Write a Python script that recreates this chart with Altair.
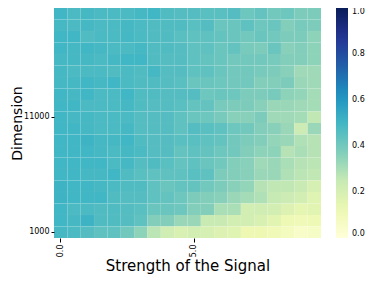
import altair as alt
import pandas as pd

strengths = [0.0, 0.5, 1.0, 1.5, 2.0, 2.5, 3.0, 3.5, 4.0, 4.5,
             5.0, 5.5, 6.0, 6.5, 7.0, 7.5, 8.0, 8.5, 9.0, 9.5]
dims_top_to_bottom = [20000, 19000, 18000, 17000, 16000, 15000, 14000, 13000, 12000, 11000,
                      10000, 9000, 8000, 7000, 6000, 5000, 4000, 3000, 2000, 1000]

# left half (strength 0.0 - 4.5), rows from dimension 20000 down to 1000
values_left = [
    [0.50,0.48,0.49,0.48,0.48,0.48,0.49,0.50,0.47,0.46],
    [0.49,0.48,0.49,0.48,0.48,0.49,0.48,0.47,0.47,0.47],
    [0.50,0.50,0.47,0.48,0.48,0.49,0.48,0.47,0.47,0.45],
    [0.50,0.49,0.50,0.49,0.48,0.48,0.49,0.47,0.47,0.46],
    [0.49,0.49,0.49,0.48,0.49,0.50,0.50,0.47,0.46,0.46],
    [0.49,0.48,0.48,0.48,0.47,0.48,0.47,0.49,0.46,0.46],
    [0.49,0.49,0.50,0.49,0.50,0.48,0.47,0.47,0.46,0.45],
    [0.50,0.49,0.50,0.48,0.48,0.50,0.47,0.47,0.46,0.46],
    [0.50,0.50,0.48,0.48,0.48,0.49,0.47,0.46,0.46,0.45],
    [0.50,0.49,0.49,0.48,0.48,0.48,0.46,0.46,0.46,0.44],
    [0.50,0.50,0.49,0.48,0.48,0.49,0.46,0.46,0.46,0.44],
    [0.50,0.50,0.51,0.49,0.49,0.50,0.47,0.46,0.46,0.45],
    [0.50,0.50,0.50,0.49,0.48,0.49,0.48,0.46,0.46,0.43],
    [0.50,0.50,0.50,0.50,0.48,0.49,0.46,0.47,0.45,0.43],
    [0.50,0.50,0.49,0.49,0.50,0.47,0.45,0.44,0.44,0.44],
    [0.51,0.50,0.50,0.49,0.48,0.47,0.47,0.44,0.42,0.43],
    [0.51,0.50,0.50,0.50,0.47,0.46,0.46,0.44,0.43,0.41],
    [0.50,0.48,0.48,0.47,0.47,0.46,0.45,0.42,0.42,0.41],
    [0.50,0.49,0.51,0.47,0.47,0.46,0.44,0.37,0.37,0.33],
    [0.49,0.48,0.46,0.44,0.44,0.40,0.35,0.27,0.22,0.19],
]

# right half (strength 5.0 - 9.5), rows from dimension 20000 down to 1000
values_right = [
    [0.46,0.45,0.45,0.46,0.41,0.43,0.40,0.41,0.38,0.38],
    [0.45,0.46,0.42,0.42,0.44,0.41,0.42,0.37,0.39,0.38],
    [0.44,0.44,0.43,0.42,0.40,0.42,0.40,0.38,0.38,0.35],
    [0.44,0.44,0.42,0.43,0.39,0.38,0.42,0.36,0.37,0.35],
    [0.44,0.43,0.42,0.40,0.40,0.40,0.39,0.37,0.37,0.35],
    [0.44,0.44,0.42,0.40,0.40,0.39,0.38,0.36,0.32,0.32],
    [0.42,0.42,0.41,0.40,0.40,0.37,0.37,0.38,0.33,0.32],
    [0.46,0.41,0.42,0.41,0.38,0.38,0.39,0.35,0.34,0.31],
    [0.43,0.43,0.39,0.38,0.38,0.36,0.33,0.33,0.32,0.31],
    [0.42,0.41,0.39,0.36,0.36,0.38,0.32,0.32,0.31,0.26],
    [0.46,0.45,0.44,0.41,0.40,0.37,0.36,0.33,0.23,0.33],
    [0.45,0.44,0.43,0.40,0.38,0.37,0.34,0.33,0.29,0.28],
    [0.44,0.43,0.41,0.40,0.37,0.35,0.35,0.28,0.30,0.28],
    [0.44,0.42,0.40,0.37,0.36,0.32,0.33,0.30,0.28,0.27],
    [0.45,0.44,0.38,0.37,0.36,0.33,0.33,0.29,0.27,0.26],
    [0.43,0.40,0.38,0.36,0.34,0.28,0.26,0.26,0.24,0.20],
    [0.38,0.37,0.36,0.33,0.31,0.29,0.25,0.23,0.21,0.17],
    [0.37,0.37,0.30,0.30,0.21,0.22,0.21,0.18,0.15,0.16],
    [0.33,0.24,0.24,0.21,0.21,0.19,0.16,0.11,0.10,0.11],
    [0.21,0.20,0.18,0.17,0.12,0.12,0.10,0.08,0.05,0.06],
]

cmap_stops = [0.0, 0.125, 0.25, 0.375, 0.5, 0.625, 0.75, 0.875, 1.0]
cmap_colors = ["#ffffd9", "#edf8b1", "#c7e9b4", "#7fcdbb", "#41b6c4",
               "#1d91c0", "#225ea8", "#253494", "#081d58"]

rows = []
for d, left, right in zip(dims_top_to_bottom, values_left, values_right):
    for s, v in zip(strengths, left + right):
        rows.append({"strength": s, "dim": d, "value": v})
df = pd.DataFrame(rows)

FONT = "DejaVu Sans"
W, H = 267, 230

chart = alt.Chart(df).mark_rect(stroke="white", strokeWidth=0.5, strokeOpacity=0.06).encode(
    x=alt.X("strength:O", sort="ascending",
            scale=alt.Scale(paddingInner=0, paddingOuter=0),
            axis=alt.Axis(title="Strength of the Signal", values=[0.0, 5.0],
                          labelExpr="format(datum.value, '.1f')",
                          labelAngle=270, labelAlign="right", labelBaseline="middle",
                          labelFontSize=8, labelPadding=2, tickSize=4,
                          titleFontSize=15, titleX=W / 2, titleY=32,
                          titleBaseline="alphabetic", titleAlign="center",
                          domain=False,
                          tickColor="black", labelColor="black", titleColor="black",
                          titleFontWeight="normal")),
    y=alt.Y("dim:O", sort="descending",
            scale=alt.Scale(paddingInner=0, paddingOuter=0),
            axis=alt.Axis(title="Dimension", values=[1000, 11000],
                          labelFontSize=8, labelPadding=2, tickSize=3,
                          titleFontSize=14, titleX=-33, titleY=H / 2, titleAngle=270,
                          titleBaseline="alphabetic", titleAlign="center",
                          domain=False,
                          tickColor="black", labelColor="black", titleColor="black",
                          titleFontWeight="normal")),
    color=alt.Color("value:Q",
                    scale=alt.Scale(domain=cmap_stops, range=cmap_colors, interpolate="rgb"),
                    legend=alt.Legend(title=None, values=[0.0, 0.2, 0.4, 0.6, 0.8, 1.0],
                                      format=".1f", gradientLength=H, gradientThickness=12,
                                      offset=15, labelFontSize=8,
                                      labelOffset=4, labelColor="black",
                                      gradientStrokeWidth=0)),
).properties(
    width=W, height=H,
    autosize=alt.AutoSizeParams(type="none"),
    padding={"left": 46, "top": 0, "right": 45, "bottom": 36},
).configure(font=FONT).configure_view(stroke=None)

chart.save("out.html", embed_options={"renderer": "svg", "actions": False})
